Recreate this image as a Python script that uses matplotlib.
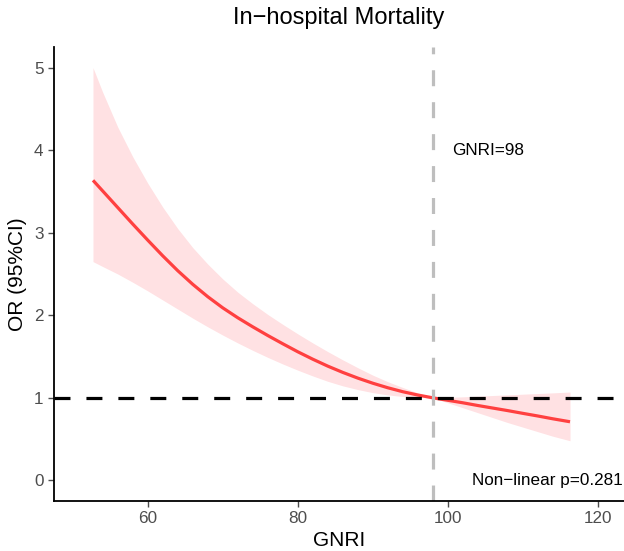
import matplotlib
matplotlib.use("Agg")
import matplotlib.pyplot as plt
import numpy as np

plt.rcParams['font.family'] = ['Liberation Sans', 'DejaVu Sans']

gnri = [52.7, 54, 56, 58, 60, 62, 64, 66, 68, 70, 72, 74, 76, 78, 80, 82, 84, 86, 88, 90,
        92, 94, 96, 98, 100, 102, 104, 106, 108, 110, 112, 114, 116.3]
or_est = [3.635, 3.505, 3.305, 3.105, 2.91, 2.72, 2.54, 2.375, 2.225, 2.09, 1.97, 1.86, 1.755, 1.655, 1.558, 1.468,
          1.384, 1.308, 1.239, 1.177, 1.122, 1.074, 1.034, 1.00, 0.97, 0.94, 0.907, 0.876, 0.845, 0.812, 0.78, 0.746, 0.71]
or_upper = [5.00, 4.70, 4.28, 3.92, 3.60, 3.31, 3.05, 2.82, 2.62, 2.44, 2.28, 2.14, 2.01, 1.89, 1.775, 1.665,
            1.56, 1.46, 1.365, 1.275, 1.195, 1.125, 1.06, 1.00, 1.005, 1.012, 1.02, 1.028, 1.036, 1.044, 1.052, 1.06, 1.07]
or_lower = [2.65, 2.59, 2.50, 2.40, 2.295, 2.185, 2.075, 1.965, 1.86, 1.76, 1.665, 1.575, 1.49, 1.41, 1.335, 1.265,
            1.20, 1.145, 1.10, 1.063, 1.035, 1.016, 1.004, 1.00, 0.94, 0.88, 0.82, 0.76, 0.70, 0.645, 0.59, 0.535, 0.48]
cutoff = 98
x_ticks = [60, 80, 100, 120]
y_ticks = [0, 1, 2, 3, 4, 5]

fig = plt.figure(figsize=(6.24, 5.51), dpi=100)
ax = fig.add_axes([54/624, 50/551, 1 - 54/624, (501-47)/551])

ax.fill_between(gnri, or_lower, or_upper, color='#FFE1E3', linewidth=0)
ax.plot(gnri, or_est, color='#FF4040', linewidth=2.3, solid_capstyle='butt', solid_joinstyle='round')
ax.axhline(1, color='black', linewidth=2.3, dashes=(5, 5))
ax.axvline(cutoff, color='#BEBEBE', linewidth=2.3, dashes=(5, 5))

ax.text(100.6, 4.0, 'GNRI=98', fontsize=12.3, ha='left', va='center', color='black')
ax.text(103.3, 0.0, 'Non\u2212linear p=0.281', fontsize=12.3, ha='left', va='center', color='black')

ax.set_xlim(47.5, 123.5)
ax.set_ylim(-0.25, 5.25)
ax.set_xticks(x_ticks)
ax.set_yticks(y_ticks)
ax.tick_params(colors='#4D4D4D', labelsize=12.3, length=4, width=1)
for s in ['top', 'right']:
    ax.spines[s].set_visible(False)
for s in ['left', 'bottom']:
    ax.spines[s].set_linewidth(1.3)
    ax.spines[s].set_color('black')

ax.set_xlabel('GNRI', fontsize=15, labelpad=3)
ax.set_ylabel('OR (95%CI)', fontsize=15, labelpad=5)
fig.text(0.543, 0.967, 'In\u2212hospital Mortality', fontsize=17, ha='center', va='center')

fig.savefig('out.png', dpi=100)
